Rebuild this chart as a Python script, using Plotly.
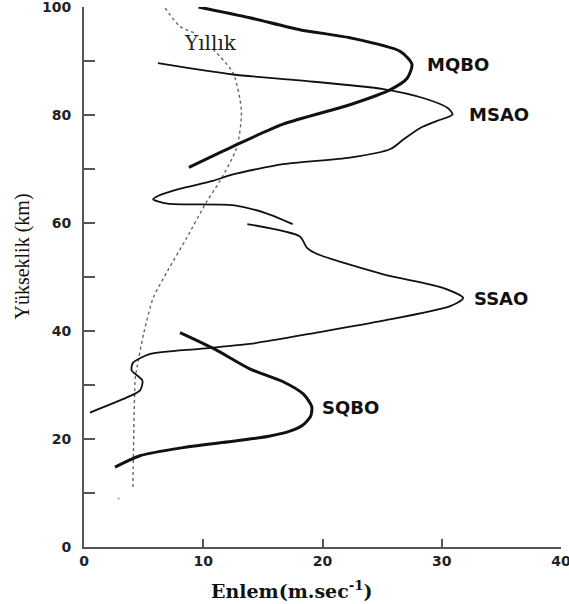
import plotly.graph_objects as go

# ---- data (x: Enlem m/s, y: Yükseklik km) ----
mqbo_x = [9.6, 13.9, 18.1, 22.3, 26.5, 27.5, 27.1, 25.7, 22.3, 16.7, 12.5, 8.8]
mqbo_y = [100, 98.0, 95.8, 94.3, 91.8, 89.4, 86.8, 84.7, 81.9, 78.3, 74.2, 70.3]

msao_x = [6.2, 12.5, 18.1, 25.1, 28.5, 30.5, 30.9, 29.6, 28.2, 26.8, 25.7, 22.3, 16.7,
          12.5, 10.8, 8.0, 6.2, 5.8, 7.0, 12.5, 15.3, 17.5]
msao_y = [89.6, 87.5, 86.4, 84.8, 83.1, 81.3, 80.1, 78.9, 77.6, 75.5, 73.7, 72.1, 70.9,
          69.0, 67.8, 66.3, 65.0, 64.4, 63.6, 63.3, 61.8, 59.8]

ssao_x = [13.7, 18.1, 18.7, 19.5, 25.1, 30.1, 31.8, 30.7, 25.1, 19.5, 13.9, 9.7, 5.5,
          4.1, 4.0, 4.9, 4.7, 3.6, 0.5]
ssao_y = [59.8, 57.5, 55.4, 54.3, 50.5, 48.0, 46.1, 44.6, 41.9, 39.7, 37.6, 36.7, 35.7,
          34.1, 32.7, 30.8, 29.0, 27.7, 24.9]

sqbo_x = [8.05, 11.0, 13.9, 16.7, 18.4, 19.1, 19.0, 18.3, 17.2, 15.5, 13.9, 12.5, 8.3, 4.7, 2.6]
sqbo_y = [39.7, 36.6, 33.0, 30.6, 28.3, 26.0, 24.2, 22.5, 21.4, 20.5, 20.0, 19.6, 18.4, 16.9, 14.8]

yillik_x = [6.8, 8.05, 9.3, None, 10.8, 12.5, 13.2, 12.8, 11.4, 10.3, 8.6, 7.0, 5.8, 5.0, 4.4, 4.3, 4.1]
yillik_y = [99.8, 96.4, 95.2, None, 92.2, 87.8, 80.7, 73.9, 67.8, 64.0, 57.2, 51.1, 46.1, 39.5, 32.7, 31.4, 10.5]

stray_x = [2.9]
stray_y = [9.0]

labels = ["MQBO", "MSAO", "SSAO", "SQBO"]
label_x = [28.6, 32.1, 32.5, 19.8]
label_y = [89.4, 80.1, 46.1, 25.8]

yillik_label = "Yıllık"
yillik_lx, yillik_ly = 10.6, 93.3

y_tickvals = [0, 10, 20, 30, 40, 50, 60, 70, 80, 90, 100]
y_ticktext = ["0", " ", "20", " ", "40", " ", "60", " ", "80", " ", "100"]
x_tickvals = [0, 10, 20, 30, 40]
x_ticktext = ["0", "10", "20", "30", "40"]

x_title = "Enlem(m.sec<sup>-1</sup>)"
y_title = "Yükseklik (km)"

fig = go.Figure()

def add_line(x, y, width, dash="solid", color="#111"):
    fig.add_trace(go.Scatter(x=x, y=y, mode="lines",
                             line=dict(color=color, width=width, dash=dash, shape="spline", smoothing=0.7),
                             hoverinfo="skip", showlegend=False, connectgaps=False))

add_line(yillik_x, yillik_y, 1.4, dash="dot", color="#666")
add_line(mqbo_x, mqbo_y, 3.0)
add_line(msao_x, msao_y, 1.8)
add_line(ssao_x, ssao_y, 1.8)
add_line(sqbo_x, sqbo_y, 3.0)
fig.add_trace(go.Scatter(x=stray_x, y=stray_y, mode="markers",
                         marker=dict(size=2, color="#999"), hoverinfo="skip", showlegend=False))

for t, lx, ly in zip(labels, label_x, label_y):
    fig.add_annotation(x=lx, y=ly, text=t, showarrow=False, xanchor="left", yanchor="middle",
                       font=dict(family="DejaVu Sans", size=18, color="#111", weight="bold"))

fig.add_annotation(x=yillik_lx, y=yillik_ly, text=yillik_label, showarrow=False,
                   xanchor="center", yanchor="middle",
                   font=dict(family="DejaVu Serif", size=20, color="#222"))

fig.add_annotation(xref="paper", yref="paper", x=(292 - 84) / 477, y=(604 - 590 - 57) / 541,
                   text=x_title, showarrow=False, xanchor="center", yanchor="middle",
                   font=dict(family="DejaVu Serif", size=19, color="#111", weight="bold"))
fig.add_annotation(xref="paper", yref="paper", x=(23 - 84) / 477, y=(604 - 256 - 57) / 541,
                   text=y_title, showarrow=False, xanchor="center", yanchor="middle", textangle=-90,
                   font=dict(family="Liberation Serif", size=20, color="#111"))

axis_common = dict(showgrid=False, zeroline=False, showline=True, linecolor="#555", linewidth=2,
                   ticks="inside", tickcolor="#555", tickwidth=2, ticklabeloverflow="allow",
                   automargin=False,
                   tickfont=dict(family="DejaVu Sans", size=14, color="#222", weight="bold"))

fig.update_xaxes(range=[0, 40], tickvals=x_tickvals, ticktext=x_ticktext, ticklen=8,
                 ticklabelstandoff=0, **axis_common)
fig.update_yaxes(range=[0, 100], tickvals=y_tickvals, ticktext=y_ticktext, ticklen=11,
                 ticklabelstandoff=8, **axis_common)

fig.update_layout(width=569, height=604, margin=dict(l=84, r=8, t=7, b=57),
                  plot_bgcolor="white", paper_bgcolor="white", showlegend=False)

fig.write_html("out.html")
